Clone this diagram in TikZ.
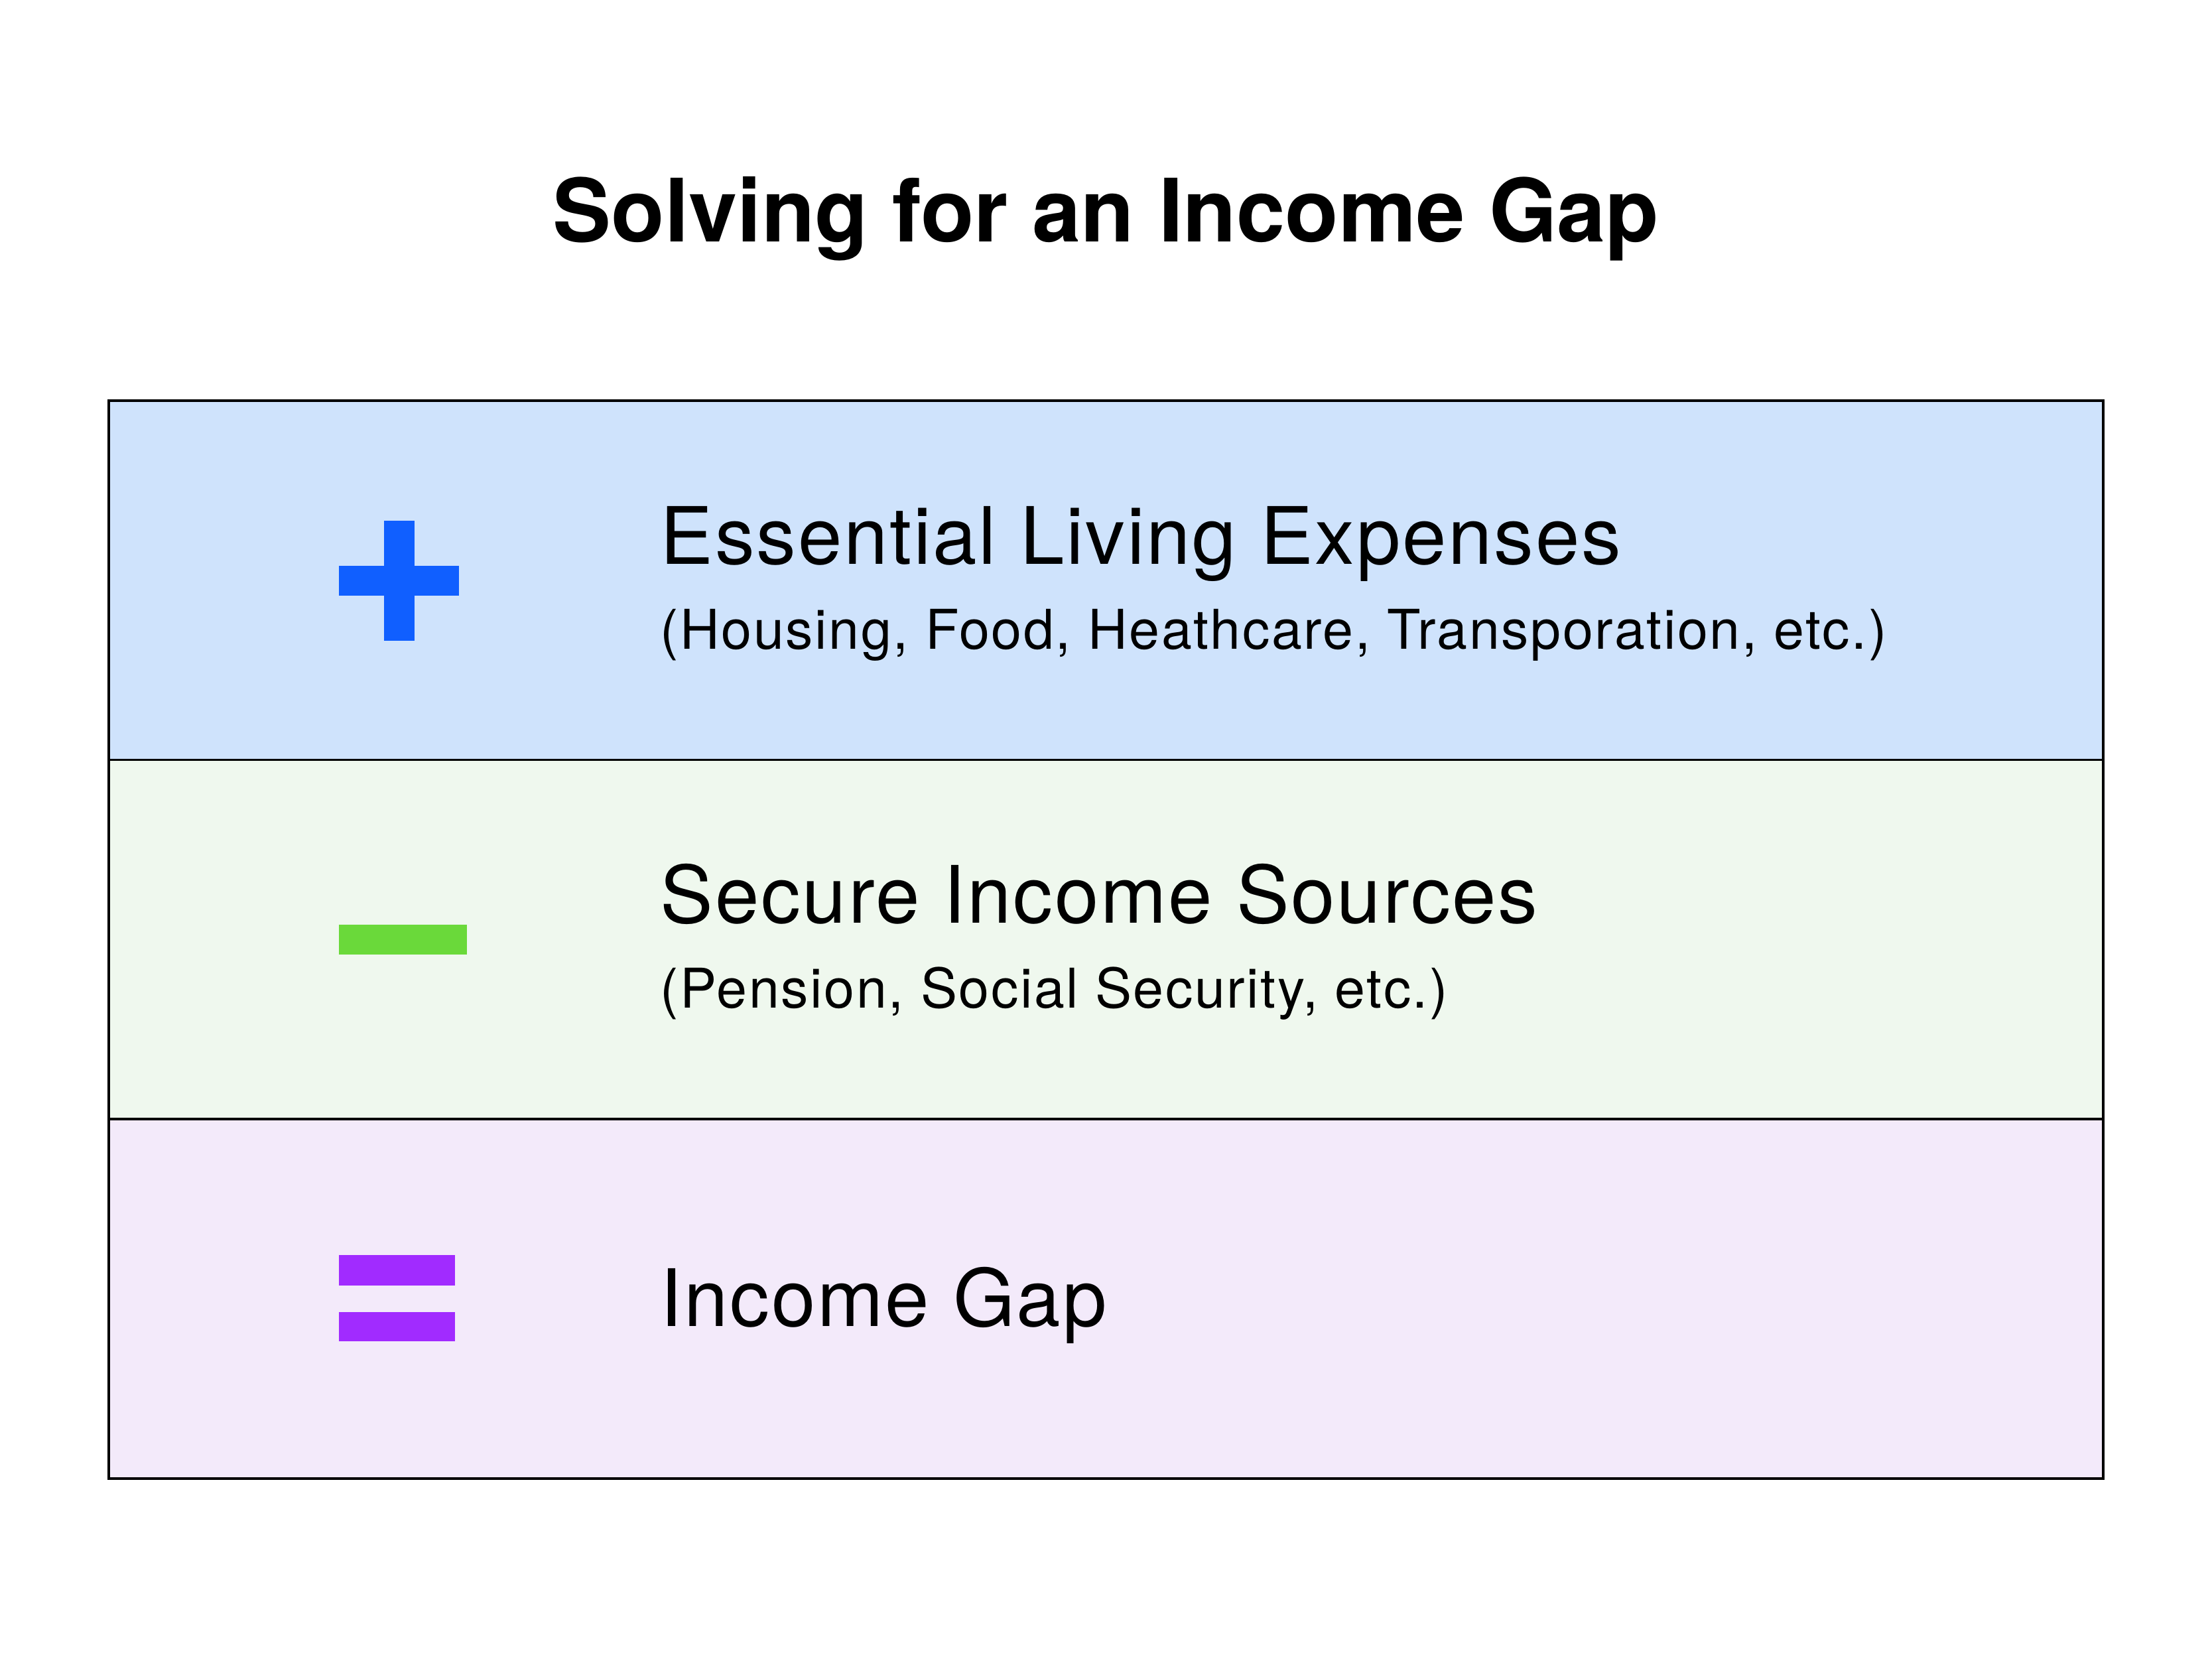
\documentclass[tikz,border=0pt]{standalone}
\usepackage{fontspec}
\setmainfont{TeX Gyre Heros}
\newfontfamily\rowfont[LetterSpace=2.3]{TeX Gyre Heros}
\newfontfamily\notefont[LetterSpace=3.1]{TeX Gyre Heros}
\usepackage{tikz}
\usetikzlibrary{positioning}
\definecolor{rowblue}{RGB}{207,227,252}
\definecolor{rowgreen}{RGB}{239,248,238}
\definecolor{rowpurple}{RGB}{243,234,250}
\definecolor{signblue}{RGB}{16,95,255}
\definecolor{signgreen}{RGB}{106,217,58}
\definecolor{signpurple}{RGB}{161,43,255}
\tikzset{row box/.style={draw=black, line width=1.1pt, minimum width=30.07cm,
    minimum height=5.42cm, inner sep=0pt}}
\tikzset{row title/.style={anchor=base west, inner sep=0pt, font=\rowfont\fontsize{34}{40}\selectfont}}
\tikzset{row note/.style={anchor=base west, inner sep=0pt, font=\notefont\fontsize{23.5}{28}\selectfont}}
\tikzset{chart title/.style={anchor=base, inner sep=0pt, font=\fontsize{37.5}{44}\selectfont\bfseries}}

\begin{document}
\begin{tikzpicture}
      \fill [white] (0,0) rectangle (33.35,-25.01);
      \useasboundingbox (0,0) rectangle (33.35,-25.01);

      \node [chart title] (title) at (16.675,-3.65) {Solving for an Income Gap};

      \node [row box, fill=rowblue]   (expenses) at (16.675, -8.75)  {};
      \node [row box, fill=rowgreen]  (income)   at (16.675, -14.165) {};
      \node [row box, fill=rowpurple] (gap)      at (16.675, -19.58)  {};

      % signs
      \fill [signblue] (5.11,-8.53) rectangle (6.92,-8.98);
      \fill [signblue] (5.79,-7.85) rectangle (6.25,-9.66);
      \fill [signgreen] (5.11,-13.94) rectangle (7.04,-14.39);
      \fill [signpurple] (5.11,-18.92) rectangle (6.86,-19.38);
      \fill [signpurple] (5.11,-19.78) rectangle (6.86,-20.22);

      \node [row title] (expensesname) at (9.95, -8.50)  {Essential Living Expenses};
      \node [row note]  (expensesnote) at (9.95, -9.78)  {(Housing, Food, Heathcare, Transporation, etc.)};
      \node [row title] (incomename)   at (9.95, -13.91) {Secure Income Sources};
      \node [row note]  (incomenote)   at (9.95, -15.19) {(Pension, Social Security, etc.)};
      \node [row title] (gapname)      at (9.95, -19.99) {Income Gap};
    \end{tikzpicture}
\end{document}
